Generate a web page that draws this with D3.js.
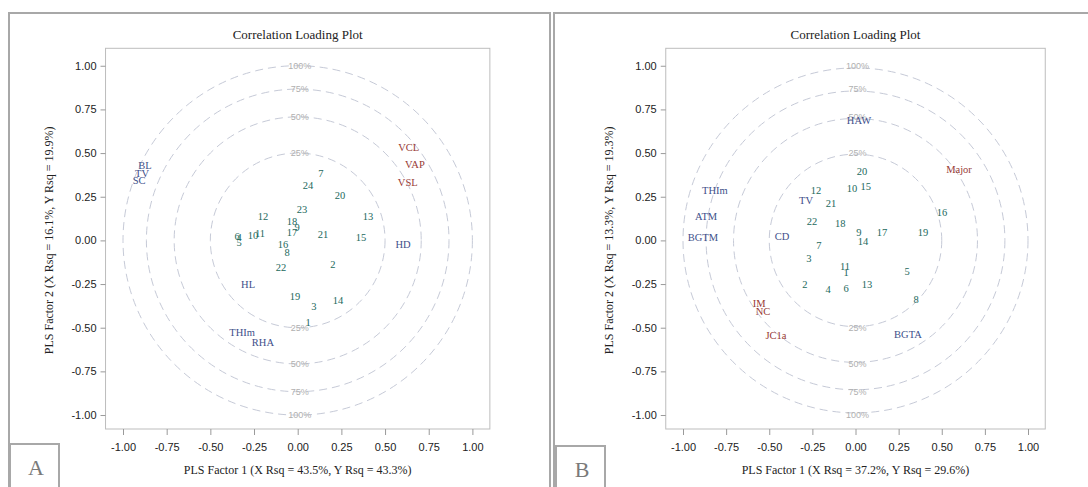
<!DOCTYPE html>
<html>
<head>
<meta charset="utf-8">
<script src="https://cdn.jsdelivr.net/npm/d3@7"></script>
<style>
  body { margin: 0; background: #fff; }
  .serif { font-family: "Liberation Serif", "DejaVu Serif", serif; }
  .sans { font-family: "Liberation Sans", Arial, sans-serif; }
</style>
</head>
<body>
<svg id="chart" width="1088" height="487"></svg>
<script>
// circle levels (share of variance explained) and their labels
const circleLevels = [0.25, 0.5, 0.75, 1.0];
const circleLabels = ['25%', '50%', '75%', '100%'];
const tickValues = [-1, -0.75, -0.5, -0.25, 0, 0.25, 0.5, 0.75, 1];

// panel A: [label, factor1, factor2]
const obsA = [
  ['1', 0.059, -0.472], ['2', 0.202, -0.135], ['3', 0.093, -0.375], ['4', -0.336, 0.020],
  ['5', -0.336, -0.009], ['6', -0.347, 0.026], ['7', 0.133, 0.386], ['8', -0.061, -0.066],
  ['9', -0.004, 0.077], ['10', -0.256, 0.031], ['11', -0.216, 0.043], ['12', -0.199, 0.140],
  ['13', 0.402, 0.140], ['14', 0.231, -0.341], ['15', 0.362, 0.020], ['16', -0.084, -0.020],
  ['17', -0.033, 0.049], ['18', -0.033, 0.112], ['19', -0.015, -0.318], ['20', 0.242, 0.260],
  ['21', 0.145, 0.037], ['22', -0.096, -0.157], ['23', 0.025, 0.180], ['24', 0.059, 0.318],
];
const xVarsA = [
  ['BL', -0.874, 0.432], ['TV', -0.891, 0.386], ['SC', -0.908, 0.346], ['HD', 0.603, -0.020],
  ['HL', -0.284, -0.249], ['THIm', -0.318, -0.529], ['RHA', -0.199, -0.581],
];
const yVarsA = [
  ['VCL', 0.635, 0.535], ['VAP', 0.671, 0.438], ['VSL', 0.630, 0.335],
];

// panel B
const obsB = [
  ['1', -0.055, -0.180], ['2', -0.293, -0.249], ['3', -0.270, -0.100], ['4', -0.159, -0.283],
  ['5', 0.299, -0.175], ['6', -0.055, -0.272], ['7', -0.212, -0.031], ['8', 0.351, -0.335],
  ['9', 0.020, 0.049], ['10', -0.020, 0.301], ['11', -0.061, -0.146], ['12', -0.229, 0.289],
  ['13', 0.067, -0.249], ['14', 0.043, -0.003], ['15', 0.060, 0.312], ['16', 0.501, 0.163],
  ['17', 0.154, 0.049], ['18', -0.089, 0.100], ['19', 0.392, 0.049], ['20', 0.037, 0.398],
  ['21', -0.142, 0.215], ['22', -0.252, 0.112],
];
const xVarsB = [
  ['HAW', 0.020, 0.690], ['THIm', -0.815, 0.289], ['TV', -0.287, 0.232], ['ATM', -0.866, 0.140],
  ['BGTM', -0.885, 0.020], ['CD', -0.426, 0.026], ['BGTA', 0.304, -0.535],
];
const yVarsB = [
  ['Major', 0.600, 0.409], ['IM', -0.559, -0.358], ['NC', -0.536, -0.409], ['JC1a', -0.461, -0.541],
];

const panels = [
  {
    letter: 'A', frameX: 9, center: 297.7, unit: 174.7, letterBox: [10, 444],
    xTitle: 'PLS Factor 1 (X Rsq = 43.5%, Y Rsq = 43.3%)',
    yTitle: 'PLS Factor 2 (X Rsq = 16.1%, Y Rsq = 19.9%)',
    obs: obsA, xVars: xVarsA, yVars: yVarsA,
  },
  {
    letter: 'B', frameX: 554, center: 855.5, unit: 172.5, letterBox: [556, 446],
    xTitle: 'PLS Factor 1 (X Rsq = 37.2%, Y Rsq = 29.6%)',
    yTitle: 'PLS Factor 2 (X Rsq = 13.3%, Y Rsq = 19.3%)',
    obs: obsB, xVars: xVarsB, yVars: yVarsB,
  },
];

const colors = { obs: '#22695c', xVar: '#414f8a', yVar: '#983a36' };
const plotTop = 48.3;
const plotBottom = 429;

const svg = d3.select('#chart');

panels.forEach((p) => {
  const plotLeft = p.center - 1.1 * p.unit;
  const plotRight = p.center + 1.1 * p.unit;
  const x = d3.scaleLinear().domain([-1.1, 1.1]).range([plotLeft, plotRight]);
  const y = d3.scaleLinear().domain([-1.08, 1.1]).range([plotBottom, plotTop]);
  const cx = x(0);
  const cy = y(0);
  const unit = x(1) - x(0);

  const g = svg.append('g');

  // outer frame
  g.append('rect')
    .attr('x', p.frameX).attr('y', 13)
    .attr('width', 541).attr('height', 490)
    .attr('fill', 'none').attr('stroke', '#a8a8a8').attr('stroke-width', 2);

  // title
  g.append('text')
    .attr('class', 'serif')
    .attr('x', cx).attr('y', 39)
    .attr('text-anchor', 'middle')
    .attr('font-size', 13)
    .attr('fill', '#222')
    .text('Correlation Loading Plot');

  // plot box
  g.append('rect')
    .attr('x', plotLeft).attr('y', plotTop)
    .attr('width', plotRight - plotLeft).attr('height', plotBottom - plotTop)
    .attr('fill', 'none').attr('stroke', '#bdbdbd').attr('stroke-width', 1);

  // axes
  const fmt = (d) => d.toFixed(2);
  const yAxis = g.append('g')
    .attr('transform', `translate(${plotLeft},0)`)
    .call(d3.axisLeft(y).tickValues(tickValues).tickFormat(fmt).tickSize(5).tickPadding(4));
  const xAxis = g.append('g')
    .attr('transform', `translate(0,${plotBottom})`)
    .call(d3.axisBottom(x).tickValues(tickValues).tickFormat(fmt).tickSize(6).tickPadding(8));
  [xAxis, yAxis].forEach((a) => {
    a.select('.domain').remove();
    a.selectAll('line').attr('stroke', '#9a9a9a');
    a.selectAll('text')
      .attr('class', 'sans')
      .attr('font-size', 11)
      .attr('fill', '#222');
  });

  // axis titles
  g.append('text')
    .attr('class', 'serif')
    .attr('x', cx).attr('y', 474)
    .attr('text-anchor', 'middle')
    .attr('font-size', 12)
    .attr('fill', '#222')
    .text(p.xTitle);

  g.append('text')
    .attr('class', 'serif')
    .attr('transform', `translate(${plotLeft - 53},${cy}) rotate(-90)`)
    .attr('text-anchor', 'middle')
    .attr('font-size', 12)
    .attr('fill', '#222')
    .text(p.yTitle);

  // correlation circles
  g.selectAll('circle.level')
    .data(circleLevels)
    .enter()
    .append('circle')
    .attr('class', 'level')
    .attr('cx', cx).attr('cy', cy)
    .attr('r', (d) => Math.sqrt(d) * unit)
    .attr('fill', 'none')
    .attr('stroke', '#c6cad7')
    .attr('stroke-width', 1)
    .attr('stroke-dasharray', '8,5');

  const levelLabels = [];
  circleLevels.forEach((d, i) => {
    levelLabels.push({ r: Math.sqrt(d), side: 1, text: circleLabels[i] });
    levelLabels.push({ r: Math.sqrt(d), side: -1, text: circleLabels[i] });
  });

  g.selectAll('text.level')
    .data(levelLabels)
    .enter()
    .append('text')
    .attr('class', 'level sans')
    .attr('x', cx + 2)
    .attr('y', (d) => cy - d.side * d.r * (y(0) - y(1)))
    .attr('dy', '0.35em')
    .attr('text-anchor', 'middle')
    .attr('font-size', 9)
    .attr('fill', '#b0b0b0')
    .text((d) => d.text);

  // point labels
  const drawLabels = (data, color) => {
    g.append('g')
      .selectAll('text')
      .data(data)
      .enter()
      .append('text')
      .attr('class', 'serif')
      .attr('x', (d) => x(d[1]))
      .attr('y', (d) => y(d[2]))
      .attr('dy', '0.35em')
      .attr('text-anchor', 'middle')
      .attr('font-size', 10.5)
      .attr('fill', color)
      .text((d) => d[0]);
  };
  drawLabels(p.obs, colors.obs);
  drawLabels(p.xVars, colors.xVar);
  drawLabels(p.yVars, colors.yVar);

  // panel letter box
  g.append('rect')
    .attr('x', p.letterBox[0]).attr('y', p.letterBox[1])
    .attr('width', 49).attr('height', 60)
    .attr('fill', '#fff').attr('stroke', '#a8a8a8').attr('stroke-width', 2);

  g.append('text')
    .attr('class', 'serif')
    .attr('x', p.letterBox[0] + 26).attr('y', p.letterBox[1] + 31)
    .attr('text-anchor', 'middle')
    .attr('font-size', 22)
    .attr('fill', '#7a7a7a')
    .text(p.letter);
});
</script>
</body>
</html>
